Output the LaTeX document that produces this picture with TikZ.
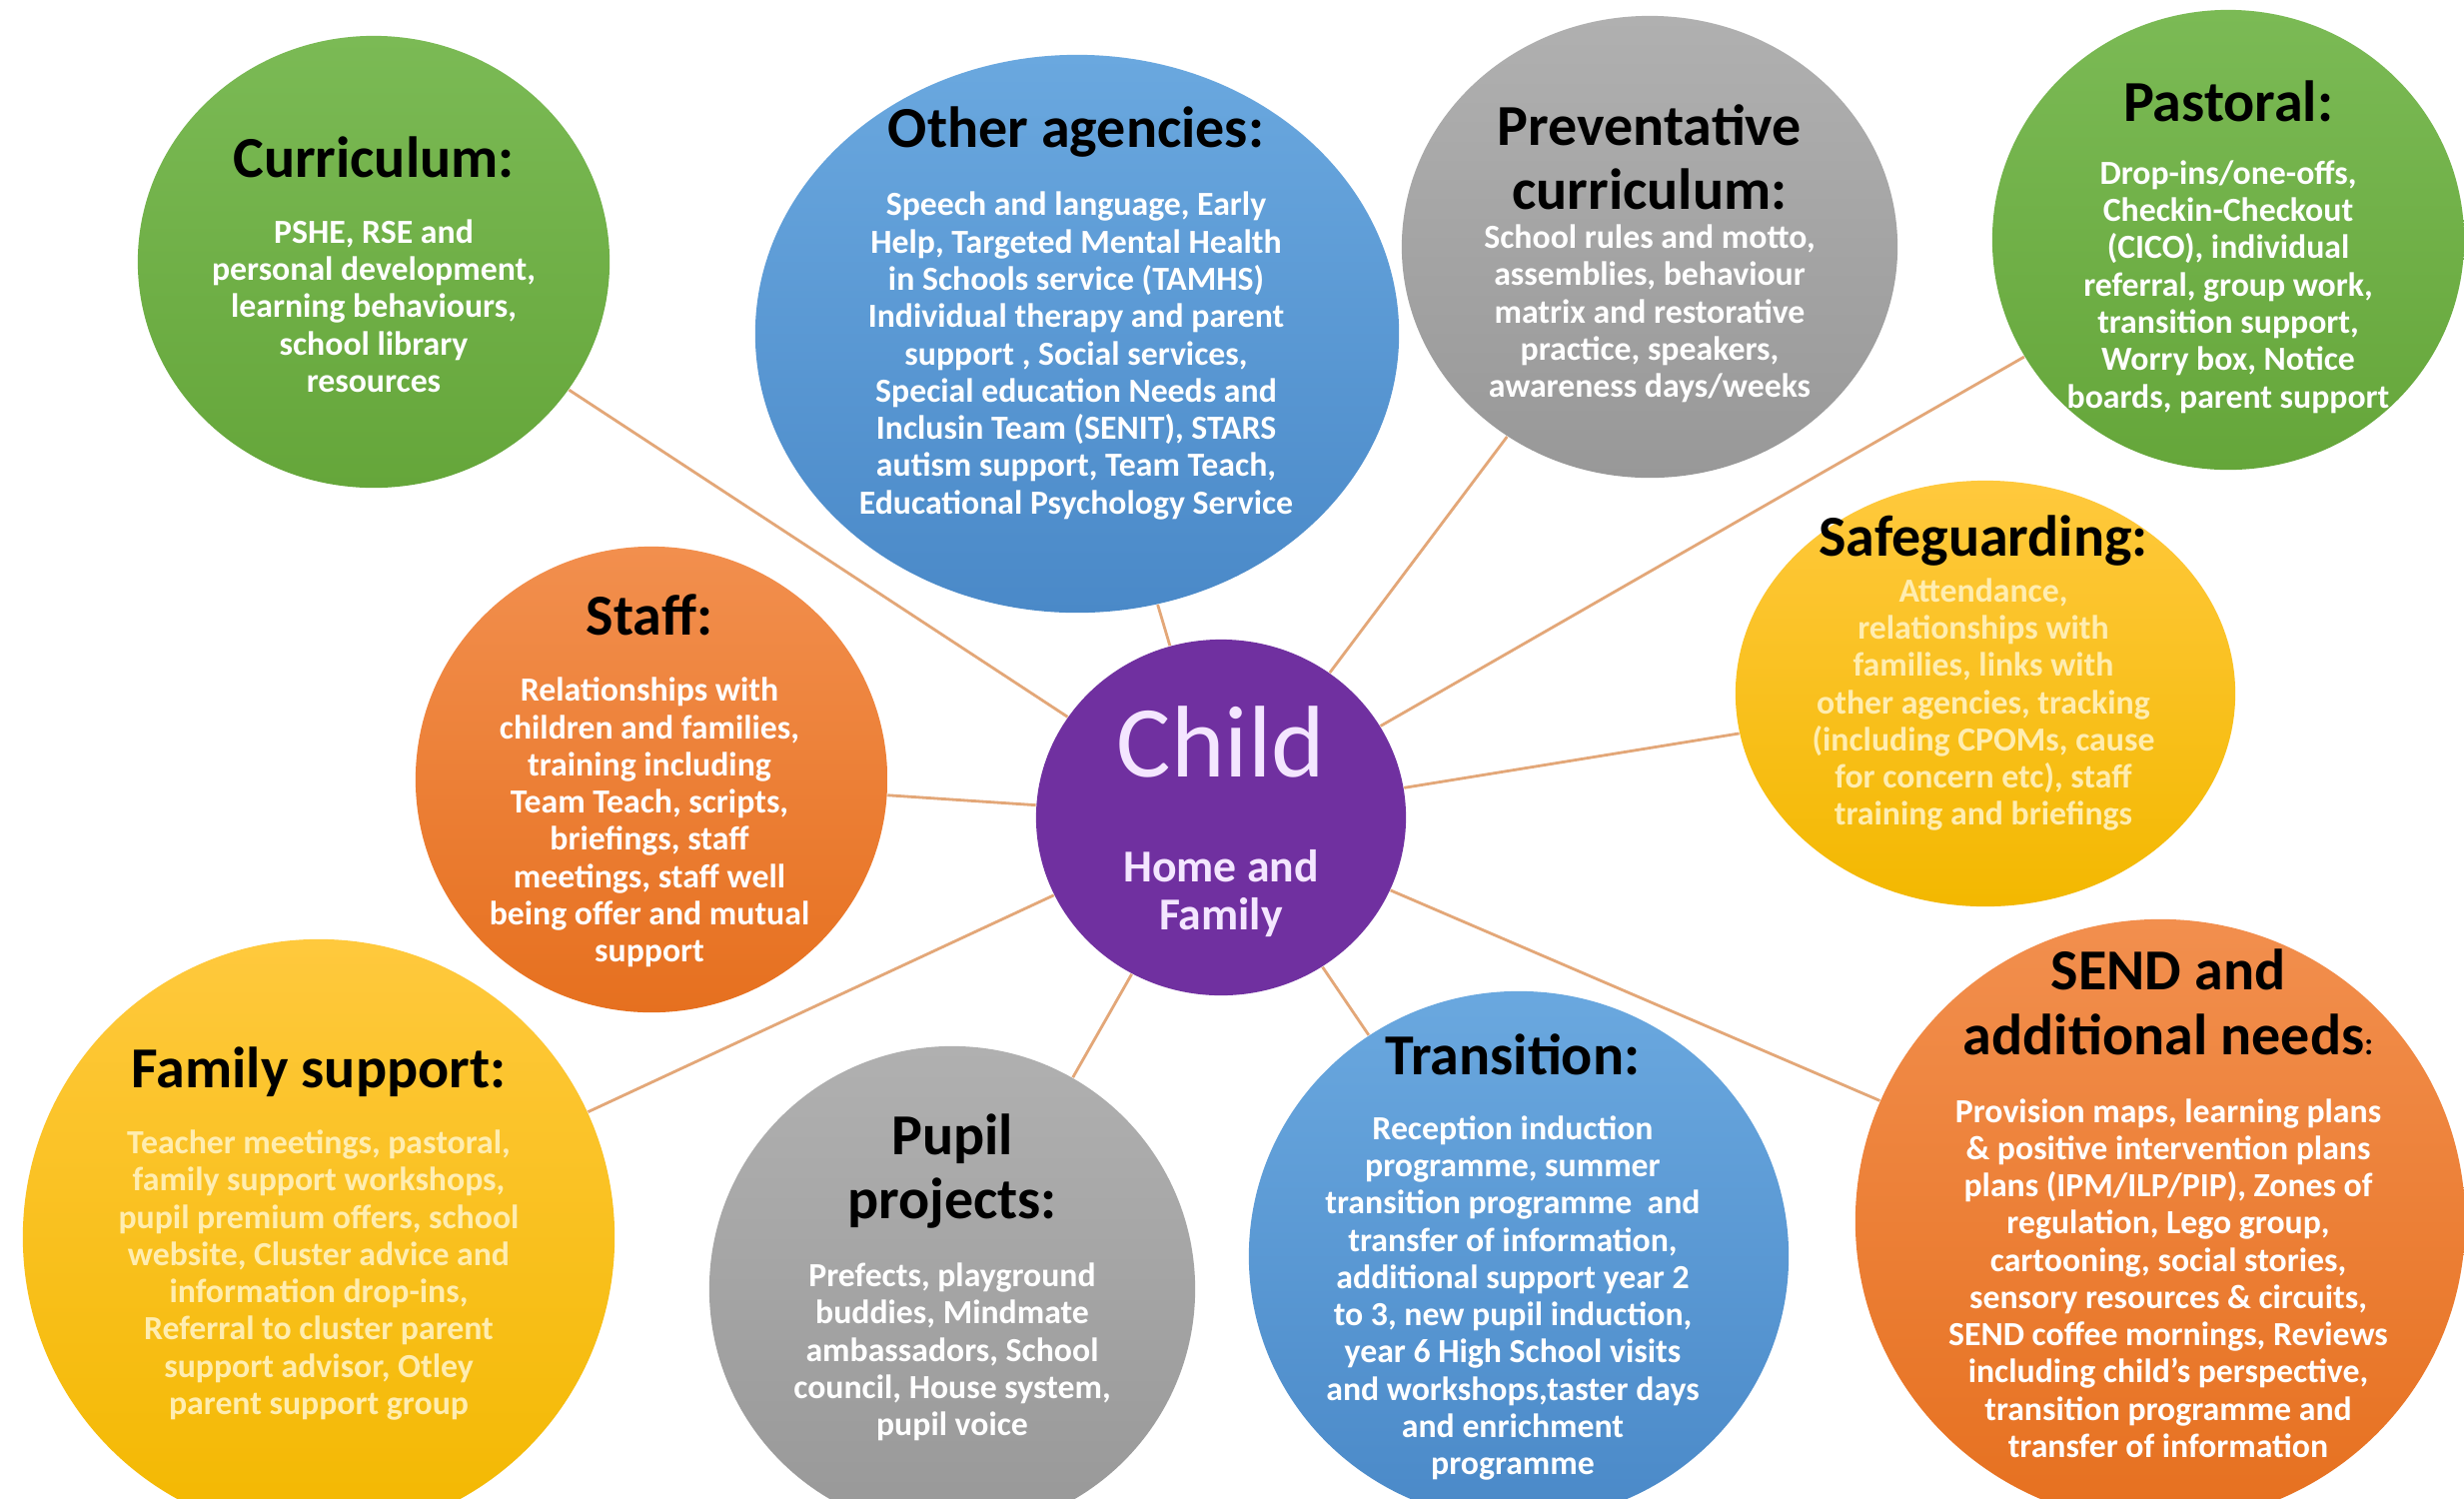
\documentclass[tikz,border=0pt]{standalone}
\usepackage{fontspec}
\setmainfont{Carlito}
\usetikzlibrary{shapes.geometric,positioning}

\definecolor{grntop}{HTML}{7BBA55}
\definecolor{grnbot}{HTML}{65A63A}
\definecolor{blutop}{HTML}{6AA8DF}
\definecolor{blubot}{HTML}{4A89C8}
\definecolor{grytop}{HTML}{B0B0B0}
\definecolor{grybot}{HTML}{989898}
\definecolor{orntop}{HTML}{F28F4E}
\definecolor{ornbot}{HTML}{E6701F}
\definecolor{yeltop}{HTML}{FFC93D}
\definecolor{yelbot}{HTML}{F3B800}
\definecolor{purp}{HTML}{7030A0}
\definecolor{spoke}{HTML}{E3A778}
\definecolor{paleyel}{HTML}{FFEDB0}
\definecolor{palepurp}{HTML}{F4E6FF}

\tikzset{
  topic/.style={ellipse, inner sep=0pt},
  grnfill/.style={top color=grntop, bottom color=grnbot},
  blufill/.style={top color=blutop, bottom color=blubot},
  gryfill/.style={top color=grytop, bottom color=grybot},
  ornfill/.style={top color=orntop, bottom color=ornbot},
  yelfill/.style={top color=yeltop, bottom color=yelbot},
  ttl/.style={font=\fontsize{16.5}{18.3}\selectfont\bfseries, align=center, inner sep=0pt},
  txt/.style={font=\fontsize{9.6}{10.6}\selectfont\bfseries, align=center, inner sep=0pt, text=white},
  spokeline/.style={draw=spoke, line width=0.8pt}
}

\begin{document}
\begin{tikzpicture}[x=0.01cm, y=-0.01cm]
  \useasboundingbox (0,0) rectangle (2466,1499);
  \fill[white] (0,0) rectangle (2466,1499);

  % top row
  \node[topic, grnfill, minimum width=4.72cm, minimum height=4.52cm] (cur) at (374,262) {};
  \node[ttl] (curT) at (374,157) {Curriculum:};
  \node[txt] (curB) at (374,306) {PSHE, RSE and\\personal development,\\learning behaviours,\\school library\\resources};

  \node[topic, blufill, minimum width=6.44cm, minimum height=5.58cm] (oth) at (1078,334) {};
  \node[ttl] (othT) at (1077,132) {Other agencies:};
  \node[txt] (othB) at (1077,356) {Speech and language, Early\\Help, Targeted Mental Health\\in Schools service (TAMHS)\\Individual therapy and parent\\support , Social services,\\Special education Needs and\\Inclusin Team (SENIT), STARS\\autism support, Team Teach,\\Educational Psychology Service};

  \node[topic, gryfill, minimum width=4.96cm, minimum height=4.62cm] (prev) at (1651,247) {};
  \node[ttl] (prevT) at (1651,157) {Preventative\\curriculum:};
  \node[txt] (prevB) at (1651,314) {School rules and motto,\\assemblies, behaviour\\matrix and restorative\\practice, speakers,\\awareness days/weeks};

  \node[topic, grnfill, minimum width=4.72cm, minimum height=4.6cm] (pas) at (2230,240) {};
  \node[ttl] (pasT) at (2230,101) {Pastoral:};
  \node[txt] (pasB) at (2230,287) {Drop-ins/one-offs,\\Checkin-Checkout\\(CICO), individual\\referral, group work,\\transition support,\\Worry box, Notice\\boards, parent support};

  % middle row
  \node[topic, ornfill, minimum width=4.72cm, minimum height=4.66cm] (staff) at (652,780) {};
  \node[ttl] (staffT) at (650,615) {Staff:};
  \node[txt] (staffB) at (650,823) {Relationships with\\children and families,\\training including\\Team Teach, scripts,\\briefings, staff\\meetings, staff well\\being offer and mutual\\support};

  \node[topic, fill=purp, minimum width=3.7cm, minimum height=3.56cm] (child) at (1222,818) {};
  \node[font=\fontsize{29}{32}\selectfont, text=palepurp, inner sep=0pt] (childT) at (1222,742) {Child};
  \node[font=\fontsize{13}{13.9}\selectfont\bfseries, text=palepurp, align=center, inner sep=0pt] (childB) at (1222,894) {Home and\\Family};

  \node[topic, yelfill, minimum width=5cm, minimum height=4.26cm] (safe) at (1987,694) {};
  \node[ttl] (safeT) at (1985,541) {Safeguarding:};
  \node[txt, text=paleyel] (safeB) at (1985,705) {Attendance,\\relationships with\\families, links with\\other agencies, tracking\\(including CPOMs, cause\\for concern etc), staff\\training and briefings};

  % bottom row
  \node[topic, yelfill, minimum width=5.92cm, minimum height=5.96cm] (fam) at (319,1238) {};
  \node[ttl] (famT) at (319,1073) {Family support:};
  \node[txt, text=paleyel] (famB) at (319,1276) {Teacher meetings, pastoral,\\family support workshops,\\pupil premium offers, school\\website, Cluster advice and\\information drop-ins,\\Referral to cluster parent\\support advisor, Otley\\parent support group};

  \node[topic, gryfill, minimum width=4.86cm, minimum height=4.86cm] (pup) at (953,1290) {};
  \node[ttl] (pupT) at (953,1172) {Pupil\\projects:};
  \node[txt] (pupB) at (953,1353) {Prefects, playground\\buddies, Mindmate\\ambassadors, School\\council, House system,\\pupil voice};

  \node[topic, blufill, minimum width=5.4cm, minimum height=5.3cm] (tra) at (1520,1257) {};
  \node[ttl] (traT) at (1514,1055) {Transition:};
  \node[txt] (traB) at (1514,1299) {Reception induction\\programme, summer\\transition programme~ and\\transfer of information,\\additional support year 2\\to 3, new pupil induction,\\year 6 High School visits\\and workshops,taster days\\and enrichment\\programme};

  \node[topic, ornfill, minimum width=6.1cm, minimum height=6.04cm] (send) at (2162,1222) {};
  \node[ttl] (sendT) at (2170,1003) {SEND and\\additional needs{\fontsize{9}{10}\selectfont:}};
  \node[txt] (sendB) at (2170,1279) {Provision maps, learning plans\\\& positive intervention plans\\plans (IPM/ILP/PIP), Zones of\\regulation, Lego group,\\cartooning, social stories,\\sensory resources \& circuits,\\SEND coffee mornings, Reviews\\including child's perspective,\\transition programme and\\transfer of information};

  % links
  \draw[spokeline] (child) -- (cur);
  \draw[spokeline] (child) -- (oth);
  \draw[spokeline] (child) -- (prev);
  \draw[spokeline] (child) -- (pas);
  \draw[spokeline] (child) -- (staff);
  \draw[spokeline] (child) -- (safe);
  \draw[spokeline] (child) -- (fam);
  \draw[spokeline] (child) -- (pup);
  \draw[spokeline] (child) -- (tra);
  \draw[spokeline] (child) -- (send);
\end{tikzpicture}
\end{document}
